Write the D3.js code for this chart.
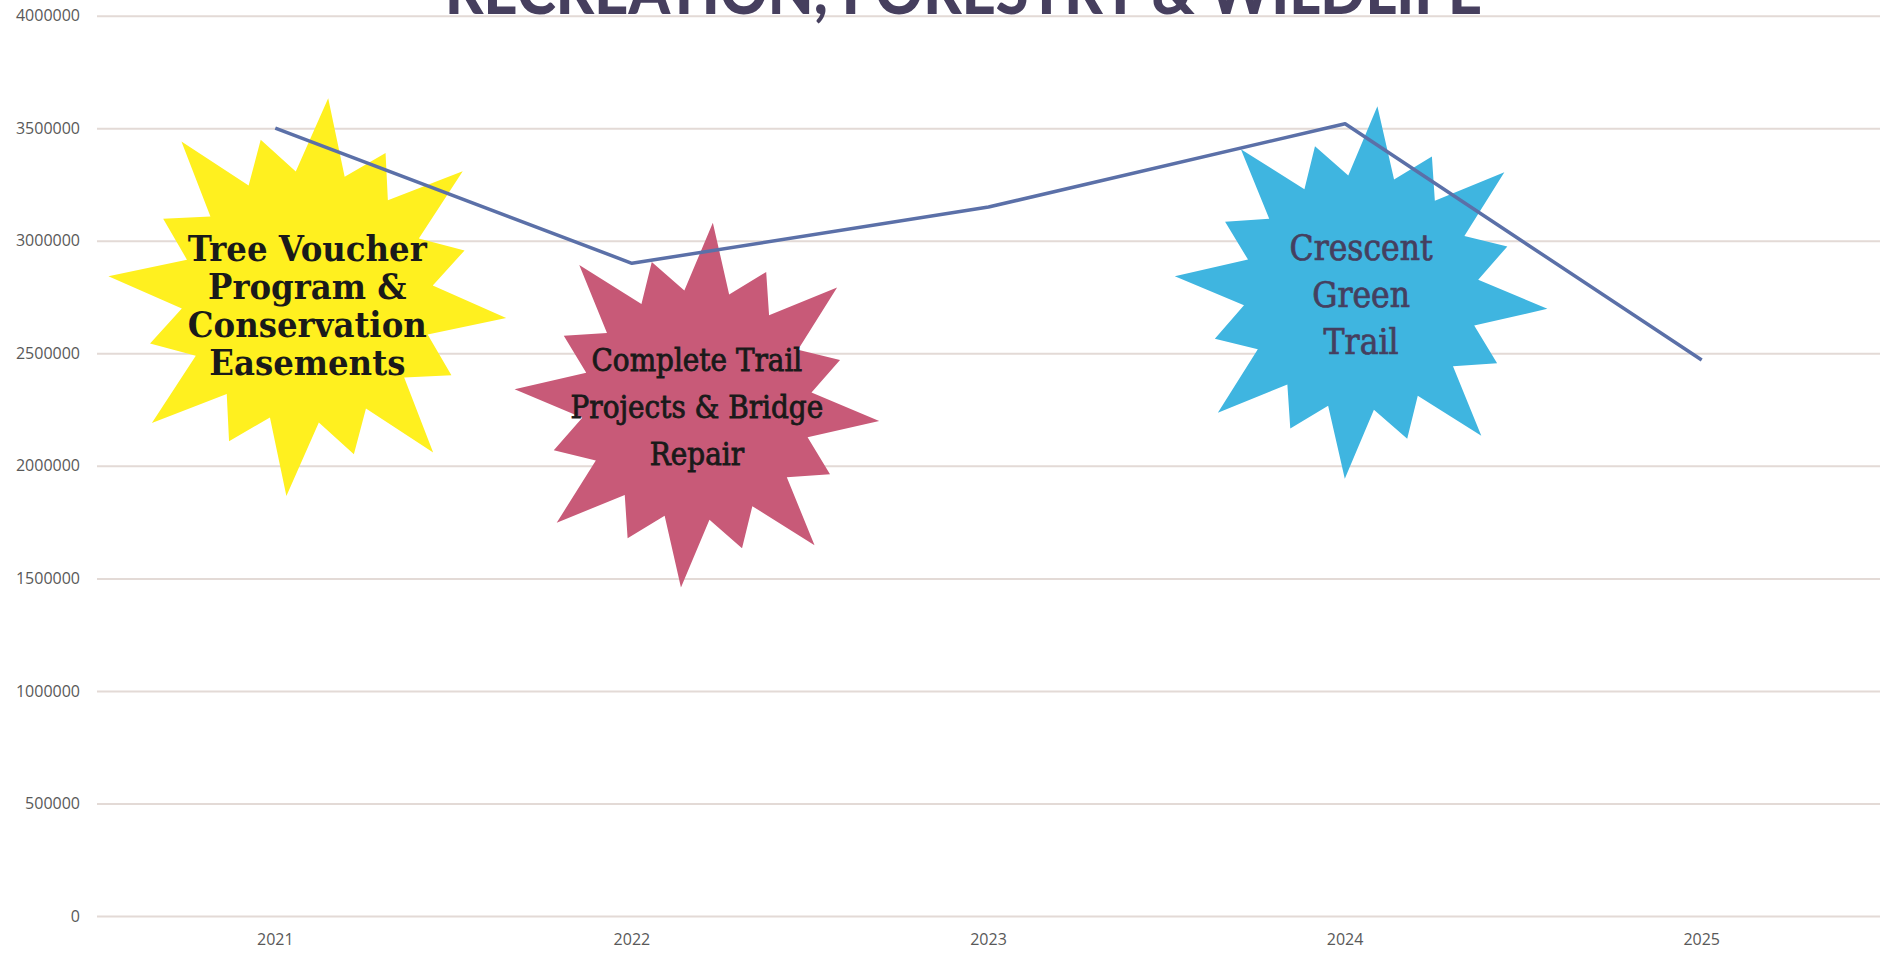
<!DOCTYPE html>
<html>
<head>
<meta charset="utf-8">
<script src="https://cdn.jsdelivr.net/npm/d3@7"></script>
<style>
  body { margin: 0; background: #fff; }
  .tick text { font-family: 'Open Sans', 'Liberation Sans', sans-serif; fill: #595959; }
</style>
</head>
<body>
<div id="chart"></div>
<script>
// Chart data
var years = ['2021', '2022', '2023', '2024', '2025'];
var funding = [3500000, 2900000, 3150000, 3520000, 2470000];
var yTicks = [0, 500000, 1000000, 1500000, 2000000, 2500000, 3000000, 3500000, 4000000];
var titleText = 'RECREATION, FORESTRY & WILDLIFE';

// Starburst call-outs
var noteYears = ['2021', '2022', '2024'];
var noteValues = [2750000, 2270000, 2770000];
var noteLabels = [
  ['Tree Voucher', 'Program &', 'Conservation', 'Easements'],
  ['Complete Trail', 'Projects & Bridge', 'Repair'],
  ['Crescent', 'Green', 'Trail']
];

// Setting size and margins
var width = 1896,
    height = 961,
    margin = {top: 15.7, right: 16, bottom: 45, left: 97};

var svg = d3.select('#chart')
            .append('svg')
            .attr('width', width)
            .attr('height', height);

var x = d3.scaleBand()
          .domain(years)
          .range([margin.left, width - margin.right])
          .padding(0);

var y = d3.scaleLinear()
          .domain([0, 4000000])
          .range([height - margin.bottom, margin.top]);

var plotW = width - margin.left - margin.right;

// Gridlines
svg.append('g')
   .attr('transform', 'translate(' + margin.left + ',0)')
   .call(d3.axisLeft(y).tickValues(yTicks).tickSizeInner(-plotW).tickSizeOuter(0).tickFormat(''))
   .call(function(g) {
     g.select('.domain').remove();
     g.selectAll('.tick line').attr('stroke', '#e3dad6').attr('stroke-width', 2);
   });

// Y axis labels
svg.append('g')
   .attr('transform', 'translate(' + margin.left + ',0)')
   .call(d3.axisLeft(y).tickValues(yTicks).tickSize(0).tickPadding(17).tickFormat(d3.format('d')))
   .call(function(g) {
     g.select('.domain').remove();
     g.selectAll('text').style('font-size', '16px');
   });

// X axis labels
svg.append('g')
   .attr('transform', 'translate(0,' + (height - margin.bottom) + ')')
   .call(d3.axisBottom(x).tickSize(0).tickPadding(18))
   .call(function(g) {
     g.select('.domain').remove();
     g.selectAll('text').style('font-size', '16px');
   });

// Title (cut off at the top edge, as in the original)
svg.append('text')
   .attr('x', 445)
   .attr('y', 14)
   .attr('textLength', 1037)
   .attr('lengthAdjust', 'spacingAndGlyphs')
   .style('font-family', 'Lato, Inter, sans-serif')
   .style('font-weight', 900)
   .style('font-size', '64px')
   .style('fill', '#463f5e')
   .text(titleText);

// Starburst styles
var noteStyles = [
  {fill: '#fff01f', ink: '#1a1a1a', r: 200, dx: 32, a0: 6, size: 36, weight: 700, halo: 0, lead: 38, first: -36},
  {fill: '#c85a78', ink: '#1a1a1a', r: 183, dx: 65, a0: 5, size: 31, weight: 400, halo: 0.8, lead: 47, first: -34},
  {fill: '#3fb5e0', ink: '#453f5f', r: 187, dx: 16, a0: 5, size: 35, weight: 400, halo: 0.7, lead: 47, first: -33}
];

function starPoints(R, a0) {
  var pts = [];
  for (var k = 0; k < 16; k++) {
    var a = (a0 + k * 22.5) * Math.PI / 180;
    pts.push([a, R * (k % 2 === 0 ? 1 : 0.82)]);
    pts.push([a + 11.25 * Math.PI / 180, R * 0.63]);
  }
  return pts;
}

var star = d3.lineRadial().curve(d3.curveLinearClosed);

var notes = svg.selectAll('.note')
               .data(noteYears)
               .enter()
               .append('g')
               .attr('class', 'note')
               .attr('transform', function(d, i) {
                 var cx = x(d) + x.bandwidth() / 2 + noteStyles[i].dx;
                 return 'translate(' + cx + ',' + y(noteValues[i]) + ')';
               });

notes.append('path')
     .attr('d', function(d, i) { return star(starPoints(noteStyles[i].r, noteStyles[i].a0)); })
     .attr('fill', function(d, i) { return noteStyles[i].fill; });

notes.each(function(d, i) {
  var s = noteStyles[i];
  d3.select(this).selectAll('text')
    .data(noteLabels[i])
    .enter()
    .append('text')
    .attr('text-anchor', 'middle')
    .attr('y', function(t, j) { return s.first + j * s.lead; })
    .style('font-family', "'DejaVu Serif Condensed', 'DejaVu Serif', serif")
    .style('font-stretch', 'condensed')
    .style('font-size', s.size + 'px')
    .style('font-weight', s.weight)
    .style('fill', s.ink)
    .style('stroke', s.halo ? s.ink : 'none')
    .style('stroke-width', s.halo)
    .text(function(t) { return t; });
});

// Funding line drawn over the call-outs
var line = d3.line()
             .x(function(d, i) { return x(years[i]) + x.bandwidth() / 2; })
             .y(function(d) { return y(d); });

svg.append('path')
   .datum(funding)
   .attr('fill', 'none')
   .attr('stroke', '#5b70a8')
   .attr('stroke-width', 3.5)
   .attr('stroke-linejoin', 'round')
   .attr('d', line);
</script>
</body>
</html>
